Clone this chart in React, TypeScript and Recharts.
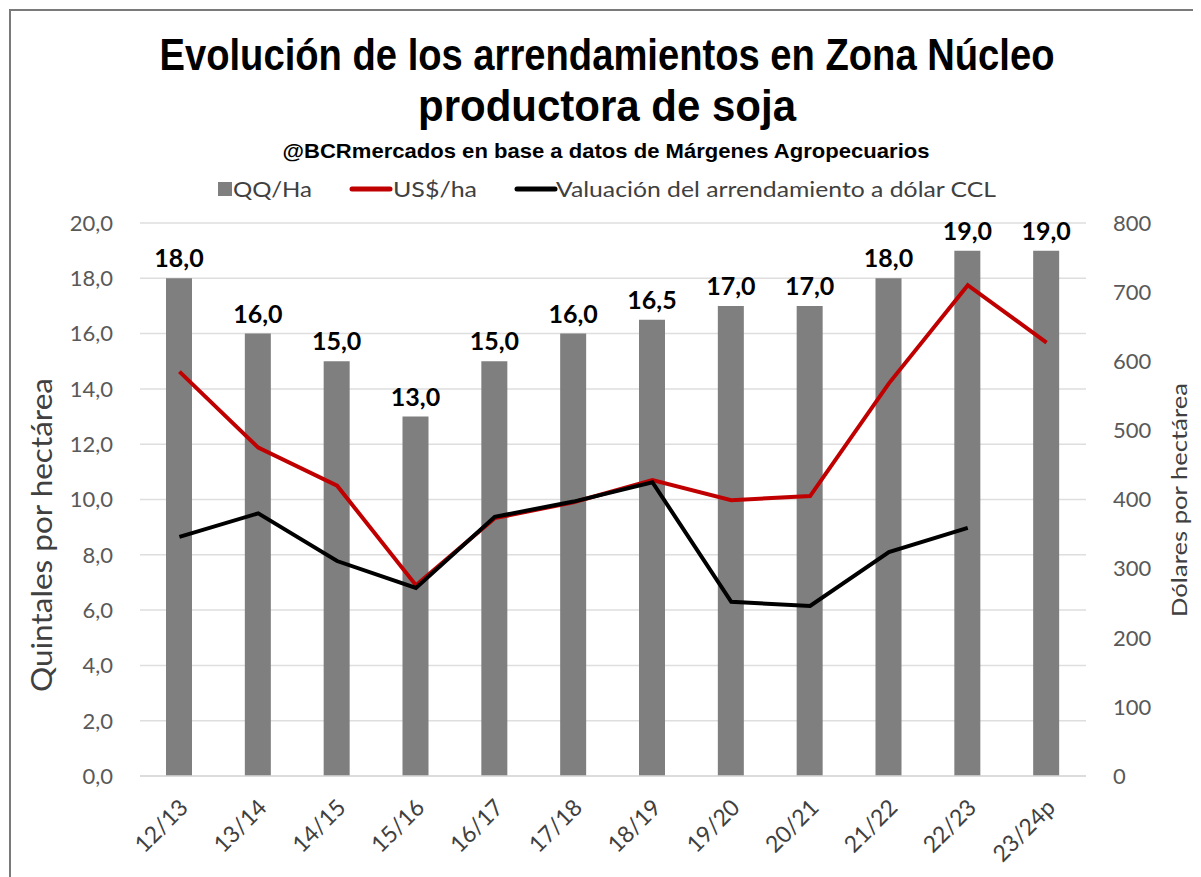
import React from "react";
import {
  ComposedChart,
  Bar,
  Line,
  XAxis,
  YAxis,
  CartesianGrid,
  LabelList,
} from "recharts";

// Campañas y valores
const campaigns = ["12/13", "13/14", "14/15", "15/16", "16/17", "17/18", "18/19", "19/20", "20/21", "21/22", "22/23", "23/24p"];
const qqPerHa = [18, 16, 15, 13, 15, 16, 16.5, 17, 17, 18, 19, 19];
const usdPerHa = [585, 475, 420, 276, 373, 396, 428, 399, 405, 568, 710, 627];
const cclValuation = [346, 380, 311, 272, 375, 397, 425, 252, 246, 324, 359, null];
const leftTicks = [0, 2, 4, 6, 8, 10, 12, 14, 16, 18, 20];
const rightTicks = [0, 100, 200, 300, 400, 500, 600, 700, 800];

const data = campaigns.map((c, i) => ({
  campaign: c,
  qq: qqPerHa[i],
  usd: usdPerHa[i],
  ccl: cclValuation[i],
}));

const BAR = "#7f7f7f";
const RED = "#c00000";
const TICK = "#595959";
const FONT = "Lato, 'Open Sans', sans-serif";
const HEAVY = "'Liberation Sans', Arial, sans-serif";

const comma = (v: number) => v.toFixed(1).replace(".", ",");

function CampaignTick({ x, y, payload }: any) {
  return (
    <g transform={`translate(${x + 10},${y + 25})`}>
      <text x={0} y={0} textAnchor="end" transform="rotate(-45)" fill="#404040" fontSize={23} fontFamily={FONT}>
        {payload.value}
      </text>
    </g>
  );
}

// textos fuera del área de gráfico, en coordenadas de la página
function Decorations() {
  return (
    <svg width={1201} height={877} style={{ position: "absolute", left: -8, top: -8 }}>
      <rect x={10} y={10} width={1300} height={1000} fill="none" stroke="#7a7a7a" strokeWidth={2} />
      <text transform="translate(607,70) scale(1,1.1)" textAnchor="middle" textLength={895} lengthAdjust="spacingAndGlyphs" fontFamily={HEAVY} fontWeight={700} fontSize={41} fill="#000">
        Evolución de los arrendamientos en Zona Núcleo
      </text>
      <text transform="translate(607,121) scale(1,1.1)" textAnchor="middle" textLength={378} lengthAdjust="spacingAndGlyphs" fontFamily={HEAVY} fontWeight={700} fontSize={41} fill="#000">
        productora de soja
      </text>
      <text x={606} y={158} textAnchor="middle" textLength={647} lengthAdjust="spacingAndGlyphs" fontFamily={HEAVY} fontWeight={700} fontSize={21} fill="#000">
        @BCRmercados en base a datos de Márgenes Agropecuarios
      </text>

      <rect x={218} y={182} width={14} height={14} fill={BAR} />
      <text x={233} y={197} textLength={79} lengthAdjust="spacingAndGlyphs" fontFamily={FONT} fontSize={21} fill="#404040">QQ/Ha</text>
      <line x1={352} x2={390} y1={189} y2={189} stroke={RED} strokeWidth={5} strokeLinecap="round" />
      <text x={393} y={197} textLength={84} lengthAdjust="spacingAndGlyphs" fontFamily={FONT} fontSize={21} fill="#404040">US$/ha</text>
      <line x1={517} x2={555} y1={189} y2={189} stroke="#000" strokeWidth={5} strokeLinecap="round" />
      <text x={556} y={197} textLength={440} lengthAdjust="spacingAndGlyphs" fontFamily={FONT} fontSize={21} fill="#404040">
        Valuación del arrendamiento a dólar CCL
      </text>

      <text transform="translate(52,535) rotate(-90)" textAnchor="middle" textLength={314} lengthAdjust="spacingAndGlyphs" fontFamily={FONT} fontSize={29} fill="#404040">
        Quintales por hectárea
      </text>
      <text transform="translate(1187,500) rotate(-90)" textAnchor="middle" textLength={234} lengthAdjust="spacingAndGlyphs" fontFamily={FONT} fontSize={22} fill="#404040">
        Dólares por hectárea
      </text>
    </svg>
  );
}

export default function App() {
  return (
    <div style={{ position: "relative", width: 1193, height: 869, overflow: "hidden", background: "#fff" }}>
      <Decorations />
      <div style={{ position: "absolute", left: 0, top: 0 }}>
        <ComposedChart width={1185} height={869} data={data} margin={{ top: 215, right: 0, bottom: 0, left: 0 }}>
          <CartesianGrid yAxisId="left" vertical={false} stroke="#dedede" strokeWidth={1.5} />
          <XAxis
            dataKey="campaign"
            height={101}
            tick={<CampaignTick />}
            tickLine={false}
            axisLine={{ stroke: "#d9d9d9", strokeWidth: 1.5 }}
            interval={0}
          />
          <YAxis
            yAxisId="left"
            orientation="left"
            width={132}
            domain={[0, 20]}
            ticks={leftTicks}
            tickFormatter={comma}
            tickLine={false}
            axisLine={false}
            tickMargin={21}
            tick={{ fill: TICK, fontSize: 22, fontFamily: FONT }}
          />
          <YAxis
            yAxisId="right"
            orientation="right"
            width={107}
            domain={[0, 800]}
            ticks={rightTicks}
            tickLine={false}
            axisLine={false}
            tickMargin={21}
            tick={{ fill: TICK, fontSize: 22, fontFamily: FONT, textAnchor: "start" }}
          />
          <Bar yAxisId="left" dataKey="qq" fill={BAR} barSize={26} isAnimationActive={false}>
            <LabelList
              dataKey="qq"
              position="top"
              offset={11}
              formatter={(v: any) => comma(Number(v))}
              style={{ fill: "#000", fontSize: 25, fontWeight: 700, fontFamily: FONT }}
            />
          </Bar>
          <Line yAxisId="right" dataKey="usd" stroke={RED} strokeWidth={4} dot={false} isAnimationActive={false} />
          <Line yAxisId="right" dataKey="ccl" stroke="#000" strokeWidth={4} dot={false} connectNulls={false} isAnimationActive={false} />
        </ComposedChart>
      </div>
    </div>
  );
}
